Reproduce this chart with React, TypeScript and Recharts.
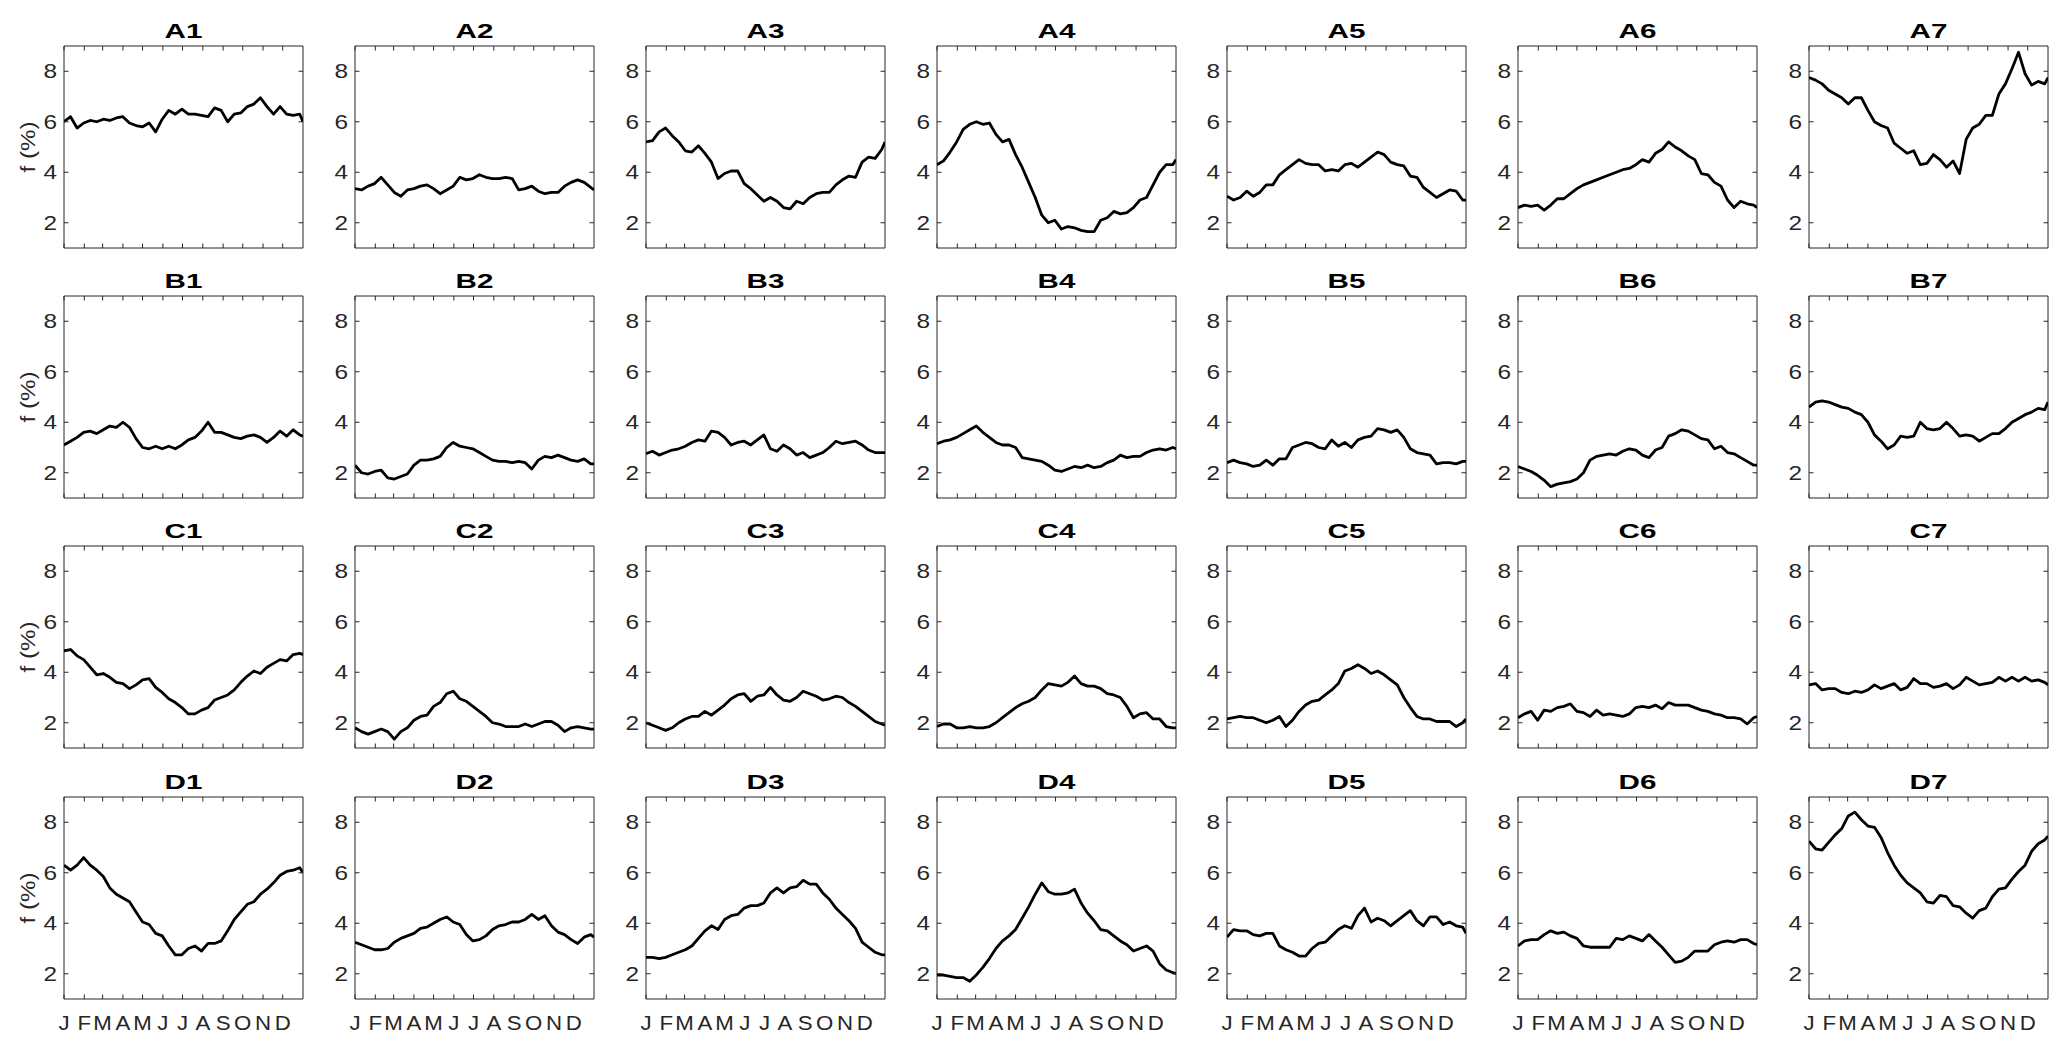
import React from 'react';
import { LineChart, Line, XAxis, YAxis, ReferenceArea } from 'recharts';

// ---------- data ----------
const DAYS = [0, 10, 20, 30, 40, 50, 60, 70, 80, 90, 100, 110, 120, 130, 140, 150, 160, 170, 180, 190, 200, 210, 220, 230, 240, 250, 260, 270, 280, 290, 300, 310, 320, 330, 340, 350, 360, 365];
const MONTH_TICKS = [0, 31, 59, 90, 120, 151, 181, 212, 243, 273, 304, 334];
const MONTH_LABELS = ['J', 'F', 'M', 'A', 'M', 'J', 'J', 'A', 'S', 'O', 'N', 'D'];
const Y_TICKS = [2, 4, 6, 8];
const Y_LABEL = 'f (%)';

const A1 = [6.0, 6.2, 5.75, 5.95, 6.05, 6.0, 6.1, 6.05, 6.15, 6.2, 5.95, 5.85, 5.8, 5.95, 5.6, 6.1, 6.45, 6.3, 6.5, 6.3, 6.3, 6.25, 6.2, 6.55, 6.45, 6.0, 6.3, 6.35, 6.6, 6.7, 6.95, 6.6, 6.3, 6.6, 6.3, 6.25, 6.3, 6.0];
const A2 = [3.35, 3.3, 3.45, 3.55, 3.8, 3.5, 3.2, 3.05, 3.3, 3.35, 3.45, 3.5, 3.35, 3.15, 3.3, 3.45, 3.8, 3.7, 3.75, 3.9, 3.8, 3.75, 3.75, 3.8, 3.75, 3.3, 3.35, 3.45, 3.25, 3.15, 3.2, 3.2, 3.45, 3.6, 3.7, 3.6, 3.4, 3.3];
const A3 = [5.2, 5.25, 5.6, 5.75, 5.45, 5.2, 4.85, 4.8, 5.05, 4.75, 4.4, 3.75, 3.95, 4.05, 4.05, 3.55, 3.35, 3.1, 2.85, 3.0, 2.85, 2.6, 2.55, 2.85, 2.75, 3.0, 3.15, 3.2, 3.2, 3.5, 3.7, 3.85, 3.8, 4.4, 4.6, 4.55, 4.9, 5.2];
const A4 = [4.3, 4.45, 4.8, 5.2, 5.7, 5.9, 6.0, 5.9, 5.95, 5.5, 5.2, 5.3, 4.7, 4.2, 3.6, 3.0, 2.3, 2.0, 2.1, 1.75, 1.85, 1.8, 1.7, 1.65, 1.65, 2.1, 2.2, 2.45, 2.35, 2.4, 2.6, 2.9, 3.0, 3.5, 4.0, 4.3, 4.3, 4.5];
const A5 = [3.05, 2.9, 3.0, 3.25, 3.05, 3.2, 3.5, 3.5, 3.9, 4.1, 4.3, 4.5, 4.35, 4.3, 4.3, 4.05, 4.1, 4.05, 4.3, 4.35, 4.2, 4.4, 4.6, 4.8, 4.7, 4.4, 4.3, 4.25, 3.85, 3.8, 3.4, 3.2, 3.0, 3.15, 3.3, 3.25, 2.9, 2.9];
const A6 = [2.6, 2.7, 2.65, 2.7, 2.5, 2.7, 2.95, 2.95, 3.15, 3.35, 3.5, 3.6, 3.7, 3.8, 3.9, 4.0, 4.1, 4.15, 4.3, 4.5, 4.4, 4.75, 4.9, 5.2, 5.0, 4.85, 4.65, 4.5, 3.95, 3.9, 3.6, 3.45, 2.9, 2.6, 2.85, 2.75, 2.7, 2.6];
const A7 = [7.75, 7.65, 7.5, 7.25, 7.1, 6.95, 6.7, 6.95, 6.95, 6.45, 6.0, 5.85, 5.75, 5.15, 4.95, 4.75, 4.85, 4.3, 4.35, 4.7, 4.5, 4.2, 4.45, 3.95, 5.3, 5.75, 5.9, 6.25, 6.25, 7.1, 7.5, 8.1, 8.75, 7.9, 7.45, 7.6, 7.5, 7.75];

const B1 = [3.1, 3.25, 3.4, 3.6, 3.65, 3.55, 3.7, 3.85, 3.8, 4.0, 3.8, 3.35, 3.0, 2.95, 3.05, 2.95, 3.05, 2.95, 3.1, 3.3, 3.4, 3.65, 4.0, 3.6, 3.6, 3.5, 3.4, 3.35, 3.45, 3.5, 3.4, 3.2, 3.4, 3.65, 3.45, 3.7, 3.5, 3.45];
const B2 = [2.3, 2.0, 1.95, 2.05, 2.1, 1.8, 1.75, 1.85, 1.95, 2.3, 2.5, 2.5, 2.55, 2.65, 3.0, 3.2, 3.05, 3.0, 2.95, 2.8, 2.65, 2.5, 2.45, 2.45, 2.4, 2.45, 2.4, 2.15, 2.5, 2.65, 2.6, 2.7, 2.6, 2.5, 2.45, 2.55, 2.35, 2.35];
const B3 = [2.75, 2.85, 2.7, 2.8, 2.9, 2.95, 3.05, 3.2, 3.3, 3.25, 3.65, 3.6, 3.4, 3.1, 3.2, 3.25, 3.1, 3.3, 3.5, 2.95, 2.85, 3.1, 2.95, 2.7, 2.8, 2.6, 2.7, 2.8, 3.0, 3.25, 3.15, 3.2, 3.25, 3.1, 2.9, 2.8, 2.8, 2.8];
const B4 = [3.15, 3.25, 3.3, 3.4, 3.55, 3.7, 3.85, 3.6, 3.4, 3.2, 3.1, 3.1, 3.0, 2.6, 2.55, 2.5, 2.45, 2.3, 2.1, 2.05, 2.15, 2.25, 2.2, 2.3, 2.2, 2.25, 2.4, 2.5, 2.7, 2.6, 2.65, 2.65, 2.8, 2.9, 2.95, 2.9, 3.0, 2.95];
const B5 = [2.4, 2.5, 2.4, 2.35, 2.25, 2.3, 2.5, 2.3, 2.55, 2.55, 3.0, 3.1, 3.2, 3.15, 3.0, 2.95, 3.3, 3.05, 3.2, 3.0, 3.3, 3.4, 3.45, 3.75, 3.7, 3.6, 3.7, 3.4, 2.95, 2.8, 2.75, 2.7, 2.35, 2.4, 2.4, 2.35, 2.45, 2.45];
const B6 = [2.25, 2.15, 2.05, 1.9, 1.7, 1.45, 1.55, 1.6, 1.65, 1.75, 2.0, 2.5, 2.65, 2.7, 2.75, 2.7, 2.85, 2.95, 2.9, 2.7, 2.6, 2.9, 3.0, 3.45, 3.55, 3.7, 3.65, 3.5, 3.35, 3.3, 2.95, 3.05, 2.8, 2.75, 2.6, 2.45, 2.3, 2.3];
const B7 = [4.6, 4.8, 4.85, 4.8, 4.7, 4.6, 4.55, 4.4, 4.3, 4.0, 3.5, 3.25, 2.95, 3.1, 3.45, 3.4, 3.45, 4.0, 3.75, 3.7, 3.75, 4.0, 3.75, 3.45, 3.5, 3.45, 3.25, 3.4, 3.55, 3.55, 3.75, 4.0, 4.15, 4.3, 4.4, 4.55, 4.5, 4.8];

const C1 = [4.85, 4.9, 4.65, 4.5, 4.2, 3.9, 3.95, 3.8, 3.6, 3.55, 3.35, 3.5, 3.7, 3.75, 3.4, 3.2, 2.95, 2.8, 2.6, 2.35, 2.35, 2.5, 2.6, 2.9, 3.0, 3.1, 3.3, 3.6, 3.85, 4.05, 3.95, 4.2, 4.35, 4.5, 4.45, 4.7, 4.75, 4.7];
const C2 = [1.8, 1.65, 1.55, 1.65, 1.75, 1.65, 1.35, 1.65, 1.8, 2.1, 2.25, 2.3, 2.65, 2.8, 3.15, 3.25, 2.95, 2.85, 2.65, 2.45, 2.25, 2.0, 1.95, 1.85, 1.85, 1.85, 1.95, 1.85, 1.95, 2.05, 2.05, 1.9, 1.65, 1.8, 1.85, 1.8, 1.75, 1.75];
const C3 = [2.0, 1.9, 1.8, 1.7, 1.8, 2.0, 2.15, 2.25, 2.25, 2.45, 2.3, 2.5, 2.7, 2.95, 3.1, 3.15, 2.85, 3.05, 3.1, 3.4, 3.1, 2.9, 2.85, 3.0, 3.25, 3.15, 3.05, 2.9, 2.95, 3.05, 3.0, 2.8, 2.65, 2.45, 2.25, 2.05, 1.95, 1.9];
const C4 = [1.85, 1.95, 1.95, 1.8, 1.8, 1.85, 1.8, 1.8, 1.85, 2.0, 2.2, 2.4, 2.6, 2.75, 2.85, 3.0, 3.3, 3.55, 3.5, 3.45, 3.6, 3.85, 3.55, 3.45, 3.45, 3.35, 3.15, 3.1, 3.0, 2.65, 2.2, 2.35, 2.4, 2.15, 2.15, 1.85, 1.8, 1.8];
const C5 = [2.15, 2.2, 2.25, 2.2, 2.2, 2.1, 2.0, 2.1, 2.25, 1.85, 2.1, 2.45, 2.7, 2.85, 2.9, 3.1, 3.3, 3.55, 4.05, 4.15, 4.3, 4.15, 3.95, 4.05, 3.9, 3.7, 3.5, 3.0, 2.6, 2.25, 2.15, 2.15, 2.05, 2.05, 2.05, 1.85, 2.0, 2.15];
const C6 = [2.2, 2.35, 2.45, 2.1, 2.5, 2.45, 2.6, 2.65, 2.75, 2.45, 2.4, 2.25, 2.5, 2.3, 2.35, 2.3, 2.25, 2.35, 2.6, 2.65, 2.6, 2.7, 2.55, 2.8, 2.7, 2.7, 2.7, 2.6, 2.5, 2.45, 2.35, 2.3, 2.2, 2.2, 2.15, 1.95, 2.2, 2.25];
const C7 = [3.5, 3.55, 3.3, 3.35, 3.35, 3.2, 3.15, 3.25, 3.2, 3.3, 3.5, 3.35, 3.45, 3.55, 3.3, 3.4, 3.75, 3.55, 3.55, 3.4, 3.45, 3.55, 3.35, 3.5, 3.8, 3.65, 3.5, 3.55, 3.6, 3.8, 3.65, 3.8, 3.65, 3.8, 3.65, 3.7, 3.6, 3.5];

const D1 = [6.3, 6.1, 6.3, 6.6, 6.3, 6.1, 5.85, 5.4, 5.15, 5.0, 4.85, 4.45, 4.05, 3.95, 3.6, 3.5, 3.1, 2.75, 2.75, 3.0, 3.1, 2.9, 3.2, 3.2, 3.3, 3.7, 4.15, 4.45, 4.75, 4.85, 5.15, 5.35, 5.6, 5.9, 6.05, 6.1, 6.2, 6.0];
const D2 = [3.25, 3.15, 3.05, 2.95, 2.95, 3.0, 3.25, 3.4, 3.5, 3.6, 3.8, 3.85, 4.0, 4.15, 4.25, 4.05, 3.95, 3.55, 3.3, 3.35, 3.5, 3.75, 3.9, 3.95, 4.05, 4.05, 4.15, 4.35, 4.15, 4.3, 3.9, 3.65, 3.55, 3.35, 3.2, 3.45, 3.55, 3.45];
const D3 = [2.65, 2.65, 2.6, 2.65, 2.75, 2.85, 2.95, 3.1, 3.4, 3.7, 3.9, 3.75, 4.15, 4.3, 4.35, 4.6, 4.7, 4.7, 4.8, 5.2, 5.4, 5.2, 5.4, 5.45, 5.7, 5.55, 5.55, 5.2, 4.95, 4.6, 4.35, 4.1, 3.8, 3.25, 3.05, 2.85, 2.75, 2.75];
const D4 = [1.95, 1.95, 1.9, 1.85, 1.85, 1.7, 1.95, 2.25, 2.6, 3.0, 3.3, 3.5, 3.75, 4.2, 4.65, 5.15, 5.6, 5.25, 5.15, 5.15, 5.2, 5.35, 4.8, 4.4, 4.1, 3.75, 3.7, 3.5, 3.3, 3.15, 2.9, 3.0, 3.1, 2.9, 2.4, 2.15, 2.05, 2.0];
const D5 = [3.45, 3.75, 3.7, 3.7, 3.55, 3.5, 3.6, 3.6, 3.1, 2.95, 2.85, 2.7, 2.7, 3.0, 3.2, 3.25, 3.5, 3.75, 3.9, 3.8, 4.3, 4.6, 4.05, 4.2, 4.1, 3.9, 4.1, 4.3, 4.5, 4.1, 3.9, 4.25, 4.25, 3.95, 4.05, 3.9, 3.85, 3.6];
const D6 = [3.1, 3.3, 3.35, 3.35, 3.55, 3.7, 3.6, 3.65, 3.5, 3.4, 3.1, 3.05, 3.05, 3.05, 3.05, 3.4, 3.35, 3.5, 3.4, 3.3, 3.55, 3.3, 3.05, 2.75, 2.45, 2.5, 2.65, 2.9, 2.9, 2.9, 3.15, 3.25, 3.3, 3.25, 3.35, 3.35, 3.2, 3.15];
const D7 = [7.25, 6.95, 6.9, 7.2, 7.5, 7.75, 8.25, 8.4, 8.1, 7.85, 7.8, 7.4, 6.8, 6.3, 5.9, 5.6, 5.4, 5.2, 4.85, 4.8, 5.1, 5.05, 4.7, 4.65, 4.4, 4.2, 4.5, 4.6, 5.05, 5.35, 5.4, 5.75, 6.05, 6.3, 6.85, 7.15, 7.3, 7.45];

const PANEL_ROWS: [string, number[]][][] = [
  [['A1', A1], ['A2', A2], ['A3', A3], ['A4', A4], ['A5', A5], ['A6', A6], ['A7', A7]],
  [['B1', B1], ['B2', B2], ['B3', B3], ['B4', B4], ['B5', B5], ['B6', B6], ['B7', B7]],
  [['C1', C1], ['C2', C2], ['C3', C3], ['C4', C4], ['C5', C5], ['C6', C6], ['C7', C7]],
  [['D1', D1], ['D2', D2], ['D3', D3], ['D4', D4], ['D5', D5], ['D6', D6], ['D7', D7]],
];

// ---------- layout ----------
const FONT = '"Liberation Sans", Arial, Helvetica, sans-serif';
const AXIS_COLOR = '#262626';
const PLOT_W = 239;
const PLOT_H = 202;
const M_TOP = 34;
const M_RIGHT = 5;
const Y_W = 50;
const X_H = 37;
const CHART_W = Y_W + PLOT_W + M_RIGHT;
const CHART_H = M_TOP + PLOT_H + X_H;
const COL_X = [64, 355, 646, 937, 1227, 1518, 1809];
const ROW_Y = [46, 296, 546, 797];
const TICK_LEN = 4.5;

function makeXTick(showLabel: boolean) {
  return (props: any) => {
    const { x, y, payload } = props;
    const idx = MONTH_TICKS.indexOf(payload.value);
    return (
      <g>
        <line x1={x} x2={x} y1={y} y2={y - TICK_LEN} stroke={AXIS_COLOR} strokeWidth={1} />
        <line x1={x} x2={x} y1={y - PLOT_H} y2={y - PLOT_H + TICK_LEN} stroke={AXIS_COLOR} strokeWidth={1} />
        {showLabel && idx >= 0 ? (
          <text
            transform={`translate(${x},${y + 31}) scale(1.06,1)`}
            x={0}
            y={0}
            textAnchor="middle"
            fontFamily={FONT}
            fontSize={21}
            fill={AXIS_COLOR}
          >
            {MONTH_LABELS[idx]}
          </text>
        ) : null}
      </g>
    );
  };
}

function YTick(props: any) {
  const { x, y, payload } = props;
  return (
    <g>
      <line x1={x} x2={x + TICK_LEN} y1={y} y2={y} stroke={AXIS_COLOR} strokeWidth={1} />
      <line x1={x + PLOT_W} x2={x + PLOT_W - TICK_LEN} y1={y} y2={y} stroke={AXIS_COLOR} strokeWidth={1} />
      <text
        transform={`translate(${x - 7},${y}) scale(1.22,1)`}
        x={0}
        y={0}
        dy="0.36em"
        textAnchor="end"
        fontFamily={FONT}
        fontSize={20}
        fill={AXIS_COLOR}
      >
        {payload.value}
      </text>
    </g>
  );
}

function Panel({ name, values, row, col }: { name: string; values: number[]; row: number; col: number }) {
  const data = DAYS.map((d, i) => ({ day: d, v: values[i] }));
  const left = COL_X[col] - 8 - Y_W;
  const top = ROW_Y[row] - 8 - M_TOP;
  const isBottom = row === PANEL_ROWS.length - 1;
  return (
    <div style={{ position: 'absolute', left, top, width: CHART_W, height: CHART_H }}>
      <LineChart width={CHART_W} height={CHART_H} data={data} margin={{ top: M_TOP, right: M_RIGHT, bottom: 0, left: 0 }}>
        <XAxis
          dataKey="day"
          type="number"
          domain={[0, 365]}
          ticks={MONTH_TICKS}
          interval={0}
          height={X_H}
          axisLine={false}
          tickLine={false}
          tickSize={0}
          tickMargin={0}
          tick={makeXTick(isBottom)}
          allowDataOverflow
        />
        <YAxis
          type="number"
          domain={[1, 9]}
          ticks={Y_TICKS}
          interval={0}
          width={Y_W}
          axisLine={false}
          tickLine={false}
          tickSize={0}
          tickMargin={0}
          tick={YTick}
          allowDataOverflow
        />
        <ReferenceArea x1={0} x2={365} y1={1} y2={9} fill="none" stroke={AXIS_COLOR} strokeWidth={1} ifOverflow="visible" />
        <Line
          type="linear"
          dataKey="v"
          stroke="#000000"
          strokeWidth={2.8}
          strokeLinejoin="round"
          dot={false}
          activeDot={false}
          isAnimationActive={false}
        />
      </LineChart>
      <div
        style={{
          position: 'absolute',
          left: Y_W,
          width: PLOT_W,
          top: M_TOP - 25,
          textAlign: 'center',
          fontFamily: FONT,
          fontWeight: 'bold',
          fontSize: 20,
          lineHeight: '20px',
          color: '#000',
          transform: 'scaleX(1.48)',
          transformOrigin: 'center',
          pointerEvents: 'none',
        }}
      >
        {name}
      </div>
      {col === 0 ? (
        <div
          style={{
            position: 'absolute',
            left: 27 - (COL_X[0] - Y_W),
            top: M_TOP + PLOT_H / 2,
            transform: 'translate(-50%, -50%) rotate(-90deg) scaleX(1.15)',
            whiteSpace: 'nowrap',
            fontFamily: FONT,
            fontSize: 21,
            lineHeight: '21px',
            color: AXIS_COLOR,
            pointerEvents: 'none',
          }}
        >
          {Y_LABEL}
        </div>
      ) : null}
    </div>
  );
}

export default function App() {
  return (
    <div style={{ position: 'relative', width: 2051, height: 1033, background: '#fff' }}>
      {PANEL_ROWS.map((rowPanels, r) =>
        rowPanels.map(([name, values], c) => (
          <Panel key={name} name={name} values={values} row={r} col={c} />
        ))
      )}
    </div>
  );
}
